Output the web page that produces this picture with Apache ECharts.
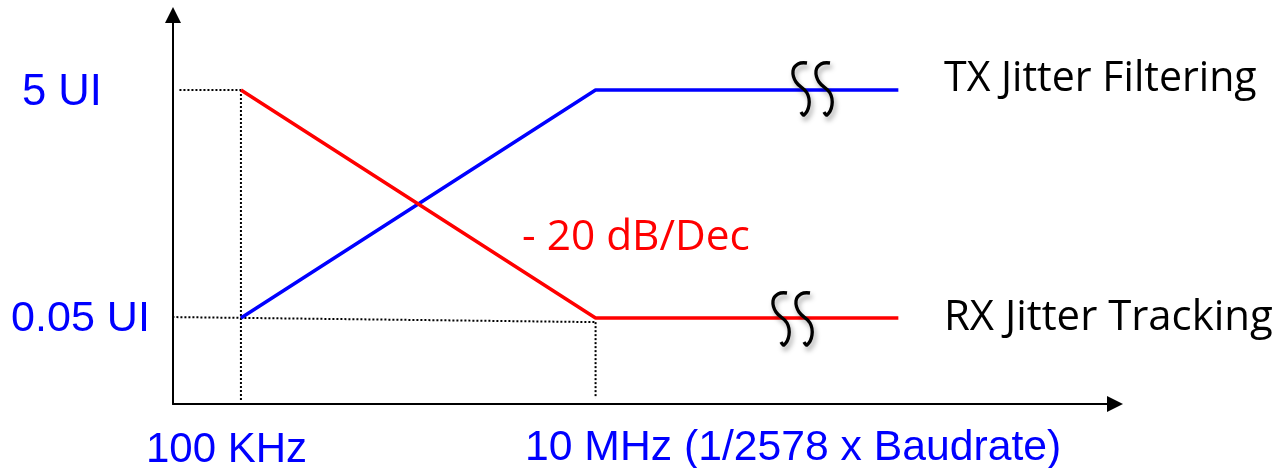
<!DOCTYPE html>
<html><head><meta charset="utf-8">
<script src="https://cdn.jsdelivr.net/npm/echarts@6/dist/echarts.min.js"></script>
<style>html,body{margin:0;padding:0;background:#fff}#c{width:1278px;height:468px}</style>
</head><body><div id="c"></div>
<script>
// ---- data ----
const xRange = [41390, 8.5e9];          // frequency axis (log)
const yRange = [0.0088, 22.75];         // jitter amplitude axis (log, UI)
const txFiltering = [[1e5, 0.05], [1e7, 5], [5.1e8, 5]];
const rxTracking  = [[1e5, 5], [1e7, 0.05], [5.1e8, 0.05]];
const guideTop    = [[4.5e4, 5], [1e5, 5]];
const guide100k   = [[1e5, 5], [1e5, 0.0092]];
const guideBottom = [[3.9e4, 0.051], [1e7, 0.046]];
const guide10M    = [[1e7, 0.046], [1e7, 0.0099]];
const yLabels = ['5 UI', '0.05 UI'];
const xLabels = ['100 KHz', '10 MHz (1/2578 x Baudrate)'];
const seriesNames = ['TX Jitter Filtering', 'RX Jitter Tracking'];
const slopeLabel = '- 20 dB/Dec';

// ---- helpers ----
const ctx = document.createElement('canvas').getContext('2d');
function fitFont(text, family, target) {
  ctx.font = '100px ' + family;
  return (100 * target / ctx.measureText(text).width).toFixed(1) + 'px ' + family;
}
const blueFam = '"Liberation Sans", Arial, sans-serif';
const calFam = '"Open Sans", sans-serif';

function guide(data) {
  return {
    type: 'line', data: data, showSymbol: false, clip: false, silent: true, z: 1,
    lineStyle: { color: '#000', width: 2, type: [2, 2] }
  };
}
function squiggle(x, y) {
  const pts = [[15, 1], [6, 2], [1, 9], [4, 20], [15, 31], [17, 43], [12, 53], [9, 50]];
  const st = { stroke: '#000', lineWidth: 3.3, fill: null, shadowBlur: 5,
    shadowOffsetX: 2, shadowOffsetY: 4, shadowColor: 'rgba(0,0,0,0.35)' };
  return [0, 23].map(dx => ({
    type: 'polyline', x: x + dx, y: y, z: 100,
    shape: { points: pts, smooth: 0.45 }, style: st
  }));
}
function txt(text, x, y, font, color) {
  return { type: 'text', x: x, y: y, z: 100,
    style: { text: text, fill: color, font: font, textVerticalAlign: 'middle' } };
}

const chart = echarts.init(document.getElementById('c'));
const arrow = 'path://M5 0 L10 10 L0 10 Z';
chart.setOption({
  animation: false,
  grid: { left: 173, right: 163, top: 15, bottom: 64 },
  xAxis: {
    type: 'log', logBase: 10, min: xRange[0], max: xRange[1],
    axisLine: { show: true, symbol: ['none', arrow], symbolSize: [16, 16],
      lineStyle: { color: '#000', width: 2 } },
    axisTick: { show: false }, axisLabel: { show: false }, splitLine: { show: false }
  },
  yAxis: {
    type: 'log', logBase: 10, min: yRange[0], max: yRange[1],
    axisLine: { show: true, symbol: ['none', arrow], symbolSize: [16, 16],
      lineStyle: { color: '#000', width: 2 } },
    axisTick: { show: false }, axisLabel: { show: false }, splitLine: { show: false }
  },
  series: [
    guide(guideTop), guide(guide100k), guide(guideBottom), guide(guide10M),
    { name: seriesNames[0], type: 'line', data: txFiltering, showSymbol: false, z: 5,
      lineStyle: { color: '#0000ff', width: 3.5 } },
    { name: seriesNames[1], type: 'line', data: rxTracking, showSymbol: false, z: 5,
      lineStyle: { color: '#ff0000', width: 3.5 } }
  ],
  graphic: [].concat(
    squiggle(792, 62), squiggle(772, 292),
    [
      txt(yLabels[0], 22, 93, fitFont(yLabels[0], blueFam, 80), '#0000ff'),
      txt(yLabels[1], 11, 319, fitFont(yLabels[1], blueFam, 139), '#0000ff'),
      txt(xLabels[0], 146, 450, fitFont(xLabels[0], blueFam, 161), '#0000ff'),
      txt(xLabels[1], 525, 448, fitFont(xLabels[1], blueFam, 537), '#0000ff'),
      txt(seriesNames[0], 944, 79, fitFont(seriesNames[0], calFam, 313), '#000'),
      txt(seriesNames[1], 944, 318, fitFont(seriesNames[1], calFam, 329), '#000'),
      txt(slopeLabel, 522, 238, fitFont(slopeLabel, calFam, 228), '#ff0000')
    ]
  )
});
</script></body></html>
